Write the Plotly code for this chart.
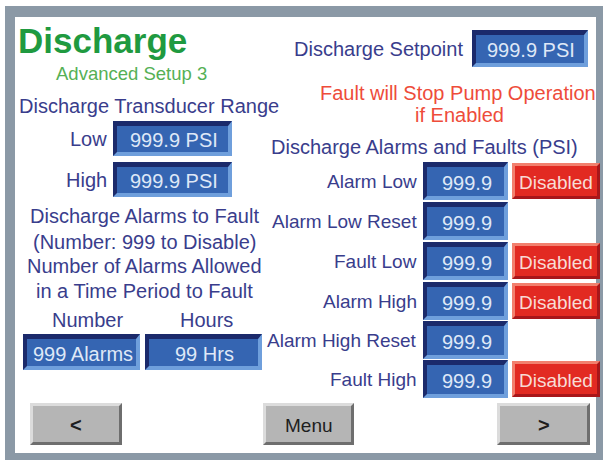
import plotly.graph_objects as go

# ---------------- data ----------------
TITLE = "Discharge"
SUBTITLE = "Advanced Setup 3"
RANGE_LABELS = ["Low", "High"]
RANGE_VALUES = ["999.9 PSI", "999.9 PSI"]
SETPOINT_VALUE = "999.9 PSI"
ROW_LABELS = ["Alarm Low", "Alarm Low Reset", "Fault Low", "Alarm High", "Alarm High Reset", "Fault High"]
ROW_VALUES = ["999.9", "999.9", "999.9", "999.9", "999.9", "999.9"]
ROW_STATES = ["Disabled", None, "Disabled", "Disabled", None, "Disabled"]
COUNT_LABELS = ["Number", "Hours"]
COUNT_VALUES = ["999 Alarms", "99 Hrs"]
NAV_BUTTONS = ["<", "Menu", ">"]
INFO_LINES = ["Discharge Alarms to Fault", "(Number: 999 to Disable)",
              "Number of Alarms Allowed", "in a Time Period to Fault"]

W, H = 603, 460
FONT = "Liberation Sans, Arial, sans-serif"
TXT = "#393d8c"
GREEN = "#1f9a40"
LGREEN = "#55b055"
RED_TXT = "#ee4c3a"

shapes = []
annotations = []


def rect(x0, y0, x1, y1, fill, line=None):
    shapes.append(dict(type="rect", xref="x", yref="y", x0=x0, y0=y0, x1=x1, y1=y1,
                       fillcolor=fill, line=dict(width=0) if line is None else line, layer="below"))


def poly(pts, fill):
    p = "M " + " L ".join(f"{x},{y}" for x, y in pts) + " Z"
    shapes.append(dict(type="path", xref="x", yref="y", path=p, fillcolor=fill,
                       line=dict(width=0), layer="below"))


def bevel(x0, y0, x1, y1, tl, br, face, b=4, bt=None):
    bt = b if bt is None else bt
    rect(x0, y0, x1, y1, br)
    poly([(x0, y0), (x1, y0), (x1 - b, y0 + bt), (x0 + b, y0 + bt), (x0 + b, y1 - b), (x0, y1)], tl)
    rect(x0 + b, y0 + bt, x1 - b, y1 - b, face)


def text(x, y, s, size=20, color=TXT, xanchor="center", bold=False):
    if bold:
        s = f"<b>{s}</b>"
    annotations.append(dict(x=x, y=y, xref="x", yref="y", text=s, showarrow=False,
                            xanchor=xanchor, yanchor="middle",
                            font=dict(family=FONT, size=size, color=color)))


def value_box(x0, y0, x1, y1, s, size=20):
    bevel(x0, y0, x1, y1, "#1b2a6b", "#6f9fdc", "#3565b2", b=4, bt=5)
    text((x0 + x1) / 2 + 1, (y0 + y1) / 2 + 1.5, s, size=size, color="#dfe8f7")


def red_button(x0, y0, x1, y1, s):
    bevel(x0, y0, x1, y1, "#f2806e", "#a8161a", "#e22a22", b=3)
    text((x0 + x1) / 2, (y0 + y1) / 2 + 1, s, size=19, color="#f8dcd6")


def gray_button(x0, y0, x1, y1, s, bold=False):
    bevel(x0, y0, x1, y1, "#dcdcdc", "#6e6e6e", "#b5b5b5", b=3)
    text((x0 + x1) / 2, (y0 + y1) / 2 + 1, s, size=19 if not bold else 20, color="#1e1e1e", bold=bold)


# frame
rect(5, 6, 603, 460, "#8b99a6")
rect(15, 17, 596, 453, "#ffffff")

# title
text(16, 40, TITLE, size=35, color=GREEN, xanchor="left", bold=True)
text(131, 73, SUBTITLE, size=18.5, color=LGREEN)

# transducer range
text(17, 106, "Discharge Transducer Range", size=20, xanchor="left")
range_y = [(121, 156), (162, 197)]
for lab, val, (y0, y1) in zip(RANGE_LABELS, RANGE_VALUES, range_y):
    text(109, (y0 + y1) / 2, lab, size=20, xanchor="right")
    value_box(113, y0, 232, y1, val)

# info lines
for s, y in zip(INFO_LINES, [216, 242, 266, 291]):
    text(144, y, s, size=20)

# number/hours
for lab, val, (x0, x1) in zip(COUNT_LABELS, COUNT_VALUES, [(23, 140), (145, 262)]):
    text((x0 + x1) / 2 + (6 if lab == "Number" else 3), 320, lab, size=20)
    value_box(x0, 334, x1, 370, val)

# setpoint
text(465, 49, "Discharge Setpoint", size=20, xanchor="right")
value_box(472, 30, 588, 67, SETPOINT_VALUE)

# fault note
text(458, 93, "Fault will Stop Pump Operation", size=20, color=RED_TXT)
text(459, 115, "if Enabled", size=20, color=RED_TXT)
text(424, 147, "Discharge Alarms and Faults (PSI)", size=20)

# rows
row_top = [162, 202, 242, 282, 321, 360]
for lab, val, st, y0 in zip(ROW_LABELS, ROW_VALUES, ROW_STATES, row_top):
    y1 = y0 + 38
    text(419, (y0 + y1) / 2, lab, size=19, xanchor="right")
    value_box(423, y0, 508, y1, val)
    if st:
        red_button(512, y0 + 1, 600, y1 - 1, st)

# nav buttons
nav_x = [(30, 122), (263, 354), (497, 590)]
for s, (x0, x1) in zip(NAV_BUTTONS, nav_x):
    gray_button(x0, 403, x1, 445, s, bold=(s != "Menu"))

fig = go.Figure()
fig.update_layout(
    width=W, height=H, margin=dict(l=0, r=0, t=0, b=0),
    paper_bgcolor="#ffffff", plot_bgcolor="#ffffff",
    xaxis=dict(range=[0, W], visible=False, fixedrange=True),
    yaxis=dict(range=[H, 0], visible=False, fixedrange=True),
    shapes=shapes, annotations=annotations, showlegend=False,
)
fig.write_html("out.html", config={"displayModeBar": False},
               post_script="document.body.style.margin='0';document.body.style.overflow='hidden';")
